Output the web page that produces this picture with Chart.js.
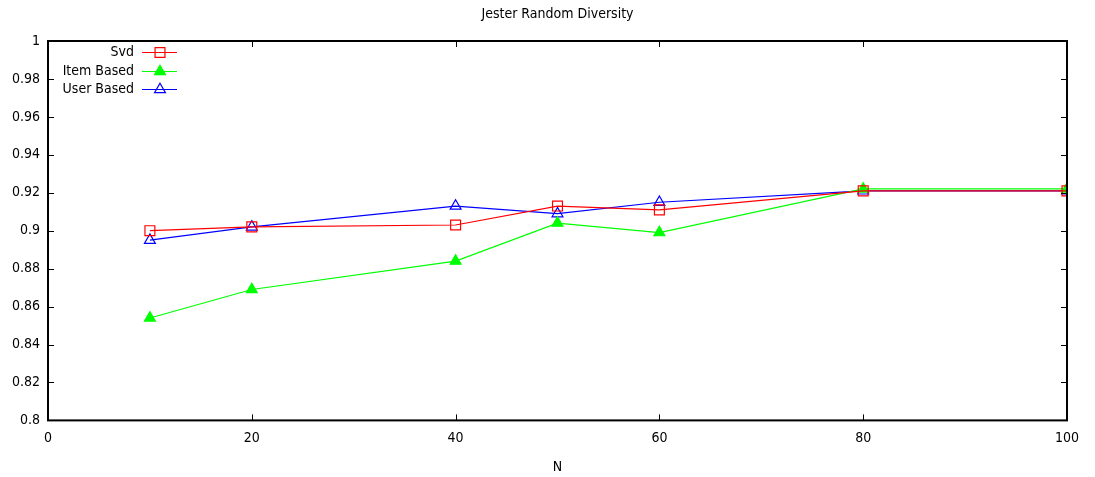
<!DOCTYPE html>
<html>
<head>
<meta charset="utf-8">
<script src="https://cdn.jsdelivr.net/npm/chart.js@4"></script>
<style>
  html, body { margin: 0; padding: 0; background: #fff; }
  #wrap { width: 1095px; height: 477px; }
</style>
</head>
<body>
<div id="wrap"><canvas id="c" width="1095" height="477"></canvas></div>
<script>
const chartTitle = 'Jester Random Diversity';
const seriesNames = ['Svd', 'Item Based', 'User Based'];
const seriesColors = ['#ff0000', '#00ff00', '#0000ff'];
const nValues = [10, 20, 40, 50, 60, 80, 100];
const svdValues = [0.900, 0.902, 0.903, 0.913, 0.911, 0.921, 0.921];
const itemBasedValues = [0.854, 0.869, 0.884, 0.904, 0.899, 0.922, 0.922];
const userBasedValues = [0.895, 0.902, 0.913, 0.909, 0.915, 0.921, 0.921];
const xTickValues = [0, 20, 40, 60, 80, 100];
const yTickValues = [0.8, 0.82, 0.84, 0.86, 0.88, 0.9, 0.92, 0.94, 0.96, 0.98, 1];
const yTickLabels = ['0.8', '0.82', '0.84', '0.86', '0.88', '0.9', '0.92', '0.94', '0.96', '0.98', '1'];

const FONT = "'DejaVu Sans Condensed', 'DejaVu Sans', sans-serif";
const FONT_SIZE = 14;
const LINE_W = 1.2;

function points(vals) {
  return nValues.map((n, i) => ({ x: n, y: vals[i] }));
}

function markerPath(ctx, style, r, mx, y) {
  ctx.beginPath();
  if (style === 'rect') {
    const h = r * Math.SQRT1_2;
    ctx.rect(mx - h, y - h, h * 2, h * 2);
  } else {
    ctx.moveTo(mx, y - r);
    ctx.lineTo(mx + r * 0.866, y + r * 0.5);
    ctx.lineTo(mx - r * 0.866, y + r * 0.5);
    ctx.closePath();
  }
}

const markerStyles = ['rect', 'triangle', 'triangle'];
const markerRadii = [7, 6.3, 6.3];
const markerFilled = [false, true, false];

// Title over the plot, frame with inward ticks, and the legend in the top-left corner
const framePlugin = {
  id: 'frame',
  afterDatasetsDraw(chart) {
    const { ctx, chartArea: a, scales } = chart;
    ctx.save();

    ctx.font = FONT_SIZE + 'px ' + FONT;
    ctx.fillStyle = '#000';
    ctx.textAlign = 'center';
    ctx.textBaseline = 'middle';
    ctx.fillText(chartTitle, (a.left + a.right) / 2, 14);

    ctx.strokeStyle = '#000';
    ctx.lineWidth = 1;
    const len = 6;
    ctx.beginPath();
    xTickValues.forEach(v => {
      const px = Math.round(scales.x.getPixelForValue(v)) + 0.5;
      ctx.moveTo(px, a.bottom); ctx.lineTo(px, a.bottom - len);
      ctx.moveTo(px, a.top); ctx.lineTo(px, a.top + len);
    });
    yTickValues.forEach(v => {
      const py = Math.round(scales.y.getPixelForValue(v)) + 0.5;
      ctx.moveTo(a.left, py); ctx.lineTo(a.left + len, py);
      ctx.moveTo(a.right, py); ctx.lineTo(a.right - len, py);
    });
    ctx.stroke();
    ctx.lineWidth = 2;
    ctx.strokeRect(a.left, a.top, a.right - a.left, a.bottom - a.top);

    // legend
    ctx.textAlign = 'right';
    const left = Math.round(a.left), top = Math.round(a.top);
    const textRight = left + 86;
    const lineX0 = left + 94, lineX1 = left + 129;
    const rowY = [top + 11, top + 30, top + 48];
    seriesNames.forEach((name, i) => {
      const y = rowY[i] + 0.5;
      const color = seriesColors[i];
      ctx.fillStyle = '#000';
      ctx.fillText(name, textRight, rowY[i]);
      ctx.lineWidth = LINE_W;
      ctx.strokeStyle = color;
      ctx.beginPath();
      ctx.moveTo(lineX0, y);
      ctx.lineTo(lineX1, y);
      ctx.stroke();
      const mx = (lineX0 + lineX1) / 2 + 0.5;
      markerPath(ctx, markerStyles[i], markerRadii[i], mx, y);
      if (markerFilled[i]) {
        ctx.fillStyle = color;
        ctx.fill();
      }
      ctx.strokeStyle = color;
      ctx.stroke();
    });
    ctx.restore();
  }
};

function series(i, vals) {
  return {
    label: seriesNames[i],
    data: points(vals),
    borderColor: seriesColors[i],
    borderWidth: LINE_W,
    pointStyle: markerStyles[i],
    pointRadius: markerRadii[i],
    pointBorderWidth: LINE_W,
    pointBorderColor: seriesColors[i],
    pointBackgroundColor: markerFilled[i] ? seriesColors[i] : 'rgba(0,0,0,0)',
    tension: 0
  };
}

new Chart(document.getElementById('c'), {
  type: 'line',
  data: {
    datasets: [
      series(0, svdValues),
      series(1, itemBasedValues),
      series(2, userBasedValues)
    ]
  },
  options: {
    responsive: false,
    animation: false,
    layout: { padding: { left: 0, right: 28, top: 41, bottom: 1 } },
    plugins: {
      legend: { display: false },
      tooltip: { enabled: false },
      title: { display: false }
    },
    scales: {
      x: {
        type: 'linear',
        min: 0,
        max: 100,
        afterBuildTicks(scale) { scale.ticks = xTickValues.map(v => ({ value: v })); },
        ticks: {
          color: '#000',
          font: { family: FONT, size: FONT_SIZE },
          padding: 10,
          maxRotation: 0
        },
        grid: { display: false, drawTicks: false },
        border: { display: false },
        title: {
          display: true,
          text: 'N',
          color: '#000',
          font: { family: FONT, size: FONT_SIZE },
          padding: { top: 2, bottom: 0 }
        }
      },
      y: {
        min: 0.8,
        max: 1,
        afterBuildTicks(scale) { scale.ticks = yTickValues.map(v => ({ value: v })); },
        afterFit(scale) { scale.width = 48; },
        ticks: {
          color: '#000',
          font: { family: FONT, size: FONT_SIZE },
          padding: 8,
          callback(v) {
            const i = yTickValues.findIndex(t => Math.abs(t - v) < 1e-9);
            return i >= 0 ? yTickLabels[i] : '';
          }
        },
        grid: { display: false, drawTicks: false },
        border: { display: false }
      }
    }
  },
  plugins: [framePlugin]
});
</script>
</body>
</html>
